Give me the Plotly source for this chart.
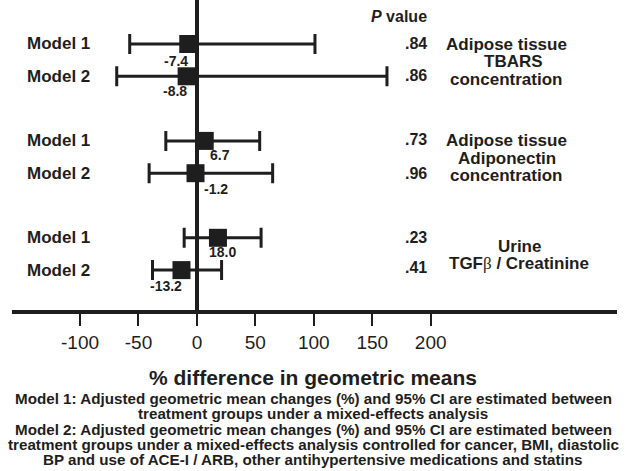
import plotly.graph_objects as go

# ---- data ----
model_labels = ["Model 1", "Model 2", "Model 1", "Model 2", "Model 1", "Model 2"]
estimates = [-7.4, -8.8, 6.7, -1.2, 18.0, -13.2]
ci_low = [-57.5, -68.6, -26.6, -40.9, -10.9, -38.0]
ci_high = [101.0, 162.6, 53.7, 64.8, 54.9, 21.1]
p_values = [".84", ".86", ".73", ".96", ".23", ".41"]
est_labels = ["-7.4", "-8.8", "6.7", "-1.2", "18.0", "-13.2"]
rows = [0, 1, 3, 4, 6, 7]
tick_vals = [-100, -50, 0, 50, 100, 150, 200]
tick_text = ["-100", "-50", "0", "50", "100", "150", "200"]
group_lines = [
    ["Adipose tissue", "TBARS", "concentration"],
    ["Adipose tissue", "Adiponectin", "concentration"],
    ["Urine", "TGF<span style='font-family:Liberation Serif;font-weight:normal'>β</span> / Creatinine"],
]
x_title = "% difference in geometric means"
footnote = [
    "Model 1: Adjusted geometric mean changes (%) and 95% CI are estimated between",
    "treatment groups under a mixed-effects analysis",
    "Model 2: Adjusted geometric mean changes (%) and 95% CI are estimated between",
    "treatment groups under a mixed-effects analysis controlled for cancer, BMI, diastolic",
    "BP and use of ACE-I / ARB, other antihypertensive medications and statins",
]

# ---- style / layout ----
W, H = 628, 471
ML, MR, MT, MB = 12, 11, 0, 161
PLOT_H = H - MT - MB
INK = "#1e1e1e"
FONT = "Liberation Sans"

def py(px):  # pixel y -> paper y
    return (H - MB - px) / PLOT_H

def pxx(px):  # pixel x -> paper x
    return (px - ML) / (W - ML - MR)

err_plus = [h - e for h, e in zip(ci_high, estimates)]
err_minus = [e - l for e, l in zip(estimates, ci_low)]

fig = go.Figure()
fig.add_trace(go.Scatter(
    x=estimates, y=rows, mode="markers",
    marker=dict(symbol="square", size=18, color=INK),
    error_x=dict(type="data", symmetric=False, array=err_plus, arrayminus=err_minus,
                 thickness=3, width=10, color=INK),
    showlegend=False, hoverinfo="x+y",
))

ann = []
# model labels
for r, lab in zip(rows, model_labels):
    ann.append(dict(x=pxx(25), xref="paper", y=r, yref="y", text=f"<b>{lab}</b>",
                    xanchor="left", yanchor="middle", showarrow=False,
                    font=dict(size=17, color=INK, family=FONT)))
# estimate labels
est_shift_x = [-12, -12, 15, 20, 5, -15]
est_shift_y = [-17, -15, -14, -16, -14, -16]
for r, e, lab, sx, sy in zip(rows, estimates, est_labels, est_shift_x, est_shift_y):
    ann.append(dict(x=e, y=r, xref="x", yref="y", text=f"<b>{lab}</b>", xshift=sx, yshift=sy,
                    xanchor="center", yanchor="middle", showarrow=False,
                    font=dict(size=14, color=INK, family=FONT)))
# p values
ann.append(dict(x=pxx(429), xref="paper", y=py(16), yref="paper",
                text="<b><i>P</i> value</b>", xanchor="right", yanchor="middle",
                showarrow=False, font=dict(size=16, color=INK, family=FONT)))
p_shift_y = [0, 1, 1, 0, 0, 3]
for r, p, sy in zip(rows, p_values, p_shift_y):
    ann.append(dict(x=pxx(429), xref="paper", y=r, yref="y", text=f"<b>{p}</b>", yshift=sy,
                    xanchor="right", yanchor="middle", showarrow=False,
                    font=dict(size=16, color=INK, family=FONT)))
# group labels
group_y = [[44, 61.7, 79.3], [140.7, 158.3, 175.7], [246, 263.3]]
group_x = [[506, 513, 506], [506, 507, 506], [519, 519]]
for lines, ys, xs in zip(group_lines, group_y, group_x):
    for t, yv, xv in zip(lines, ys, xs):
        ann.append(dict(x=pxx(xv), xref="paper", y=py(yv), yref="paper", text=f"<b>{t}</b>",
                        xanchor="center", yanchor="middle", showarrow=False, borderpad=0,
                        font=dict(size=17, color=INK, family=FONT)))
# axis title
ann.append(dict(x=pxx(313), xref="paper", y=py(378), yref="paper", text=f"<b>{x_title}</b>",
                xanchor="center", yanchor="middle", showarrow=False,
                font=dict(size=21, color=INK, family=FONT)))
# footnote
foot_y = [398, 413.5, 429, 444.5, 459.5]
for t, yv in zip(footnote, foot_y):
    ann.append(dict(x=pxx(313), xref="paper", y=py(yv), yref="paper", text=f"<b>{t}</b>",
                    xanchor="center", yanchor="middle", showarrow=False, borderpad=0,
                    font=dict(size=15.2, color=INK, family=FONT)))

fig.update_layout(
    width=W, height=H,
    margin=dict(l=ML, r=MR, t=MT, b=MB, pad=0),
    paper_bgcolor="white", plot_bgcolor="white",
    font=dict(family=FONT, color=INK),
    annotations=ann,
    xaxis=dict(range=[-158.2, 359.4], tickvals=tick_vals, ticktext=tick_text,
               showgrid=False, zeroline=True, zerolinewidth=4, zerolinecolor=INK,
               showline=True, linewidth=4, linecolor=INK,
               ticks="outside", ticklen=12, tickwidth=1.5, tickcolor=INK,
               tickfont=dict(size=19, color=INK, family=FONT)),
    yaxis=dict(range=[8.235, -1.362], showgrid=False, zeroline=False, showline=False,
               showticklabels=False, ticks=""),
)

fig.write_html("out.html", config={"displayModeBar": False},
               post_script="document.body.style.margin='0px';document.body.style.overflow='hidden';")
